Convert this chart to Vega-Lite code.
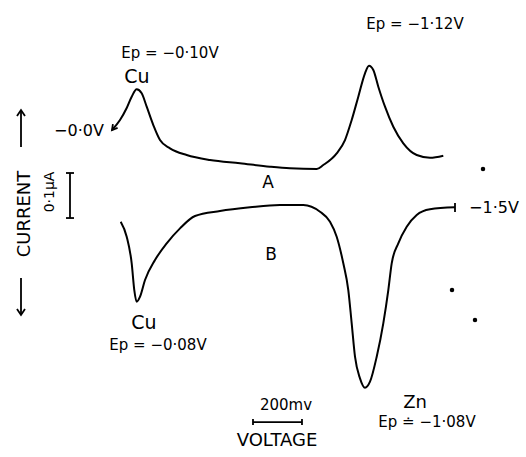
{
  "$schema": "https://vega.github.io/schema/vega-lite/v6.json",
  "width": 526,
  "height": 457,
  "autosize": {"type": "fit", "contains": "padding"},
  "padding": 0,
  "background": "white",
  "config": {"view": {"stroke": null}, "axis": {"disable": true}, "legend": {"disable": true}},
  "datasets": {
    "curves": [
      {"curve": "A", "o": 1, "x": 4.4, "y": 213.0},
      {"curve": "A", "o": 2, "x": -30.7, "y": 234.8},
      {"curve": "A", "o": 3, "x": -60.1, "y": 260.9},
      {"curve": "A", "o": 4, "x": -82.0, "y": 285.5},
      {"curve": "A", "o": 5, "x": -103.9, "y": 301.5},
      {"curve": "A", "o": 6, "x": -125.9, "y": 292.8},
      {"curve": "A", "o": 7, "x": -147.8, "y": 263.7},
      {"curve": "A", "o": 8, "x": -176.8, "y": 223.9},
      {"curve": "A", "o": 9, "x": -206.1, "y": 191.3},
      {"curve": "A", "o": 10, "x": -250.0, "y": 173.3},
      {"curve": "A", "o": 11, "x": -323.2, "y": 158.7},
      {"curve": "A", "o": 12, "x": -425.4, "y": 147.8},
      {"curve": "A", "o": 13, "x": -557.0, "y": 140.7},
      {"curve": "A", "o": 14, "x": -688.6, "y": 133.3},
      {"curve": "A", "o": 15, "x": -776.3, "y": 129.8},
      {"curve": "A", "o": 16, "x": -893.4, "y": 128.3},
      {"curve": "A", "o": 17, "x": -922.4, "y": 137.0},
      {"curve": "A", "o": 18, "x": -981.1, "y": 162.4},
      {"curve": "A", "o": 19, "x": -1017.5, "y": 191.3},
      {"curve": "A", "o": 20, "x": -1046.9, "y": 234.8},
      {"curve": "A", "o": 21, "x": -1075.9, "y": 285.5},
      {"curve": "A", "o": 22, "x": -1105.3, "y": 336.3},
      {"curve": "A", "o": 23, "x": -1122.8, "y": 352.8},
      {"curve": "A", "o": 24, "x": -1141.7, "y": 343.5},
      {"curve": "A", "o": 25, "x": -1163.6, "y": 307.2},
      {"curve": "A", "o": 26, "x": -1193.0, "y": 263.7},
      {"curve": "A", "o": 27, "x": -1229.4, "y": 220.2},
      {"curve": "A", "o": 28, "x": -1273.3, "y": 184.1},
      {"curve": "A", "o": 29, "x": -1332.0, "y": 158.7},
      {"curve": "A", "o": 30, "x": -1390.4, "y": 152.8},
      {"curve": "A", "o": 31, "x": -1448.7, "y": 157.2},
      {"curve": "B", "o": 1, "x": -33.8, "y": 13.7},
      {"curve": "B", "o": 2, "x": -60.1, "y": -18.9},
      {"curve": "B", "o": 3, "x": -82.0, "y": -76.7},
      {"curve": "B", "o": 4, "x": -93.4, "y": -134.8},
      {"curve": "B", "o": 5, "x": -103.9, "y": -160.2},
      {"curve": "B", "o": 6, "x": -118.4, "y": -149.4},
      {"curve": "B", "o": 7, "x": -140.4, "y": -113.0},
      {"curve": "B", "o": 8, "x": -184.2, "y": -69.6},
      {"curve": "B", "o": 9, "x": -235.5, "y": -33.3},
      {"curve": "B", "o": 10, "x": -293.9, "y": -0.7},
      {"curve": "B", "o": 11, "x": -359.7, "y": 26.1},
      {"curve": "B", "o": 12, "x": -469.3, "y": 37.0},
      {"curve": "B", "o": 13, "x": -600.9, "y": 45.0},
      {"curve": "B", "o": 14, "x": -732.5, "y": 50.0},
      {"curve": "B", "o": 15, "x": -834.7, "y": 50.0},
      {"curve": "B", "o": 16, "x": -907.9, "y": 35.4},
      {"curve": "B", "o": 17, "x": -951.8, "y": 13.7},
      {"curve": "B", "o": 18, "x": -981.1, "y": -18.9},
      {"curve": "B", "o": 19, "x": -1010.1, "y": -76.7},
      {"curve": "B", "o": 20, "x": -1032.0, "y": -134.8},
      {"curve": "B", "o": 21, "x": -1046.9, "y": -207.2},
      {"curve": "B", "o": 22, "x": -1061.4, "y": -279.8},
      {"curve": "B", "o": 23, "x": -1083.3, "y": -326.8},
      {"curve": "B", "o": 24, "x": -1105.3, "y": -347.2},
      {"curve": "B", "o": 25, "x": -1127.2, "y": -334.1},
      {"curve": "B", "o": 26, "x": -1156.6, "y": -279.8},
      {"curve": "B", "o": 27, "x": -1185.5, "y": -207.2},
      {"curve": "B", "o": 28, "x": -1207.5, "y": -134.8},
      {"curve": "B", "o": 29, "x": -1222.4, "y": -76.7},
      {"curve": "B", "o": 30, "x": -1251.3, "y": -33.3},
      {"curve": "B", "o": 31, "x": -1288.2, "y": 2.8},
      {"curve": "B", "o": 32, "x": -1332.0, "y": 28.3},
      {"curve": "B", "o": 33, "x": -1390.4, "y": 40.7},
      {"curve": "B", "o": 34, "x": -1500.0, "y": 45.0}
    ],
    "segs": [
      {"g": "ibar", "o": 1, "x": 188.6, "y": 119.6},
      {"g": "ibar", "o": 2, "x": 188.6, "y": 21.7},
      {"g": "icap1", "o": 1, "x": 206.1, "y": 119.6},
      {"g": "icap1", "o": 2, "x": 171.1, "y": 119.6},
      {"g": "icap2", "o": 1, "x": 206.1, "y": 21.7},
      {"g": "icap2", "o": 2, "x": 171.1, "y": 21.7},
      {"g": "vbar", "o": 1, "x": -614.0, "y": -421.8},
      {"g": "vbar", "o": 2, "x": -828.9, "y": -421.8},
      {"g": "vcap1", "o": 1, "x": -614.0, "y": -415.2},
      {"g": "vcap1", "o": 2, "x": -614.0, "y": -428.3},
      {"g": "vcap2", "o": 1, "x": -828.9, "y": -415.2},
      {"g": "vcap2", "o": 2, "x": -828.9, "y": -428.3},
      {"g": "up", "o": 1, "x": 403.5, "y": 176.1},
      {"g": "up", "o": 2, "x": 403.5, "y": 256.5},
      {"g": "uph", "o": 1, "x": 421.1, "y": 243.5},
      {"g": "uph", "o": 2, "x": 403.5, "y": 256.5},
      {"g": "uph", "o": 3, "x": 386.0, "y": 243.5},
      {"g": "dn", "o": 1, "x": 403.5, "y": -108.7},
      {"g": "dn", "o": 2, "x": 403.5, "y": -189.1},
      {"g": "dnh", "o": 1, "x": 421.1, "y": -176.1},
      {"g": "dnh", "o": 2, "x": 403.5, "y": -189.1},
      {"g": "dnh", "o": 3, "x": 386.0, "y": -176.1},
      {"g": "btick", "o": 1, "x": -1500.0, "y": 54.3},
      {"g": "btick", "o": 2, "x": -1500.0, "y": 34.8},
      {"g": "ahead", "o": 1, "x": -20.2, "y": 217.8},
      {"g": "ahead", "o": 2, "x": 4.4, "y": 213.0},
      {"g": "ahead", "o": 3, "x": 0.4, "y": 225.9}
    ],
    "dots": [
      {"x": -1622.8, "y": 128.3},
      {"x": -1486.9, "y": -134.8},
      {"x": -1587.7, "y": -200.0}
    ],
    "labels": [
      {"t": "Ep = −0·10V", "x": -250.0, "y": 380.4, "s": 15, "a": 0},
      {"t": "Cu", "x": -105.3, "y": 328.3, "s": 19, "a": 0},
      {"t": "−0·0V", "x": 149.1, "y": 210.9, "s": 16, "a": 0},
      {"t": "Ep = −1·12V", "x": -1324.6, "y": 443.5, "s": 15, "a": 0},
      {"t": "A", "x": -679.8, "y": 97.8, "s": 17, "a": 0},
      {"t": "−1·5V", "x": -1671.1, "y": 43.5, "s": 16, "a": 0},
      {"t": "B", "x": -693.0, "y": -58.7, "s": 17, "a": 0},
      {"t": "Zn", "x": -1324.6, "y": -380.5, "s": 18, "a": 0},
      {"t": "Ep ≐ −1·08V", "x": -1377.2, "y": -421.8, "s": 15, "a": 0},
      {"t": "200mv", "x": -758.8, "y": -384.8, "s": 15, "a": 0},
      {"t": "VOLTAGE", "x": -719.3, "y": -463.1, "s": 18, "a": 0},
      {"t": "Cu", "x": -136.0, "y": -206.5, "s": 19, "a": 0},
      {"t": "Ep = −0·08V", "x": -197.4, "y": -254.4, "s": 15, "a": 0},
      {"t": "0·1μA", "x": 276.3, "y": 78.3, "s": 14, "a": 270},
      {"t": "CURRENT", "x": 386.0, "y": 30.4, "s": 18, "a": 270}
    ]
  },
  "encoding": {
    "x": {"field": "x", "type": "quantitative", "scale": {"domain": [495.6, -1811.4], "nice": false, "zero": false}},
    "y": {"field": "y", "type": "quantitative", "scale": {"domain": [-497.8, 495.7], "nice": false, "zero": false}}
  },
  "layer": [
    {
      "data": {"name": "curves"},
      "mark": {"type": "line", "color": "black", "strokeWidth": 2, "interpolate": "monotone"},
      "encoding": {"detail": {"field": "curve"}, "order": {"field": "o", "type": "quantitative"}}
    },
    {
      "data": {"name": "segs"},
      "mark": {"type": "line", "color": "black", "strokeWidth": 1.8},
      "encoding": {"detail": {"field": "g"}, "order": {"field": "o", "type": "quantitative"}}
    },
    {
      "data": {"name": "dots"},
      "mark": {"type": "point", "filled": true, "color": "black", "size": 20, "opacity": 1}
    },
    {
      "data": {"name": "labels"},
      "mark": {"type": "text", "font": "DejaVu Sans", "color": "black", "align": "center", "baseline": "middle"},
      "encoding": {
        "text": {"field": "t"},
        "size": {"field": "s", "type": "quantitative", "scale": null},
        "angle": {"field": "a", "type": "quantitative", "scale": null}
      }
    }
  ]
}
